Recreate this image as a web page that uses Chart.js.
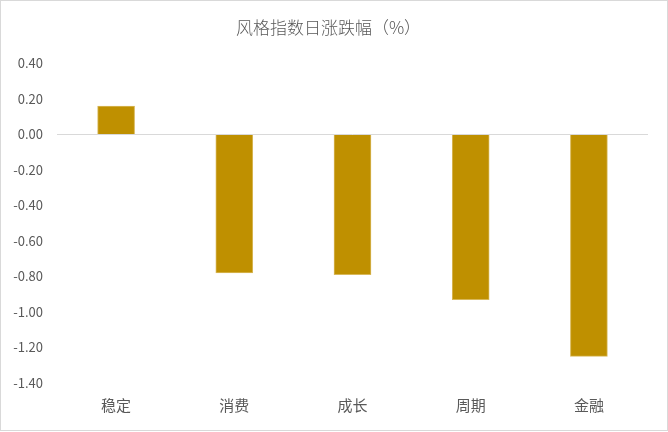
<!DOCTYPE html>
<html>
<head>
<meta charset="utf-8">
<script src="https://cdn.jsdelivr.net/npm/chart.js@4/dist/chart.umd.min.js"></script>
<style>
  html, body { margin: 0; padding: 0; background: #fff; }
  #wrap { width: 668px; height: 432px; position: relative; }
</style>
</head>
<body>
<div id="wrap"><canvas id="c" width="668" height="432"></canvas></div>
<script>
const titleText = '风格指数日涨跌幅（%）';
const categories = ['稳定', '消费', '成长', '周期', '金融'];
const values = [0.16, -0.78, -0.79, -0.93, -1.25];
const yMin = -1.4;
const yMax = 0.4;
const yStep = 0.2;

const FONT = '"Noto Sans CJK SC", "Noto Sans", sans-serif';
const TEXT = '#595959';

const borderPlugin = {
  id: 'outerBorder',
  beforeDraw(chart) {
    const ctx = chart.ctx;
    ctx.save();
    ctx.fillStyle = '#ffffff';
    ctx.fillRect(0, 0, chart.width, chart.height);
    ctx.restore();
  },
  afterDraw(chart) {
    const ctx = chart.ctx;
    ctx.save();
    ctx.strokeStyle = '#D9D9D9';
    ctx.lineWidth = 1;
    ctx.strokeRect(0.5, 0.5, chart.width - 1, chart.height - 2);
    ctx.restore();
  }
};

new Chart(document.getElementById('c'), {
  type: 'bar',
  data: {
    labels: categories,
    datasets: [{
      data: values,
      backgroundColor: '#BF9000',
      borderColor: '#D8B85A',
      borderWidth: 1,
      barThickness: 37
    }]
  },
  options: {
    responsive: false,
    animation: false,
    devicePixelRatio: 1,
    layout: { padding: { left: 9, right: 20, top: 0, bottom: 0 } },
    plugins: {
      legend: { display: false },
      tooltip: { enabled: false },
      title: {
        display: true,
        text: titleText,
        color: TEXT,
        font: { family: FONT, size: 17, weight: 300 },
        padding: { top: 17, bottom: 26 }
      }
    },
    scales: {
      x: {
        grid: { display: false, drawTicks: false },
        border: { display: false },
        ticks: { color: TEXT, font: { family: FONT, size: 15 }, padding: 13 },
        afterFit(scale) { scale.height = 49; }
      },
      y: {
        min: yMin,
        max: yMax,
        border: { display: false },
        grid: {
          drawTicks: false,
          color: (c) => (c.tick && Math.abs(c.tick.value) < 1e-9) ? '#D9D9D9' : 'rgba(0,0,0,0)',
          lineWidth: 1
        },
        ticks: {
          stepSize: yStep,
          color: TEXT,
          font: { family: FONT, size: 13 },
          padding: 14,
          callback: (v) => Number(v).toFixed(2)
        },
        afterFit(scale) { scale.width = 48; }
      }
    }
  },
  plugins: [borderPlugin]
});
</script>
</body>
</html>
